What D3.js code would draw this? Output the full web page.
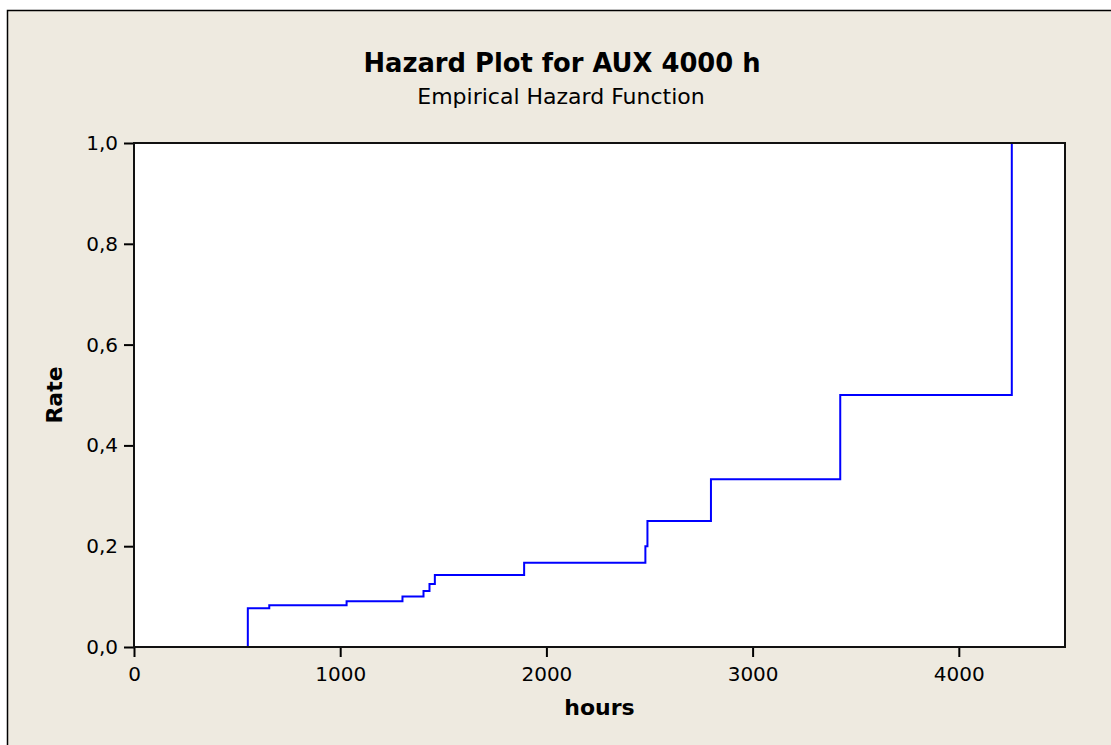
<!DOCTYPE html>
<html>
<head>
<meta charset="utf-8">
<script src="https://cdn.jsdelivr.net/npm/d3@7/dist/d3.min.js"></script>
<style>
  html, body { margin: 0; padding: 0; background: #ffffff; }
  svg { display: block; }
  text { font-family: "DejaVu Sans", sans-serif; fill: #000; }
</style>
</head>
<body>
<svg id="chart" width="1111" height="745"></svg>
<script>
// Failure times (hours) at which the empirical hazard steps up
const failureHours = [552, 656, 1031, 1302, 1404, 1433, 1459, 1892, 2480, 2490, 2798, 3425, 4257];
// Hazard rate reached at each failure time
const hazardRates = [0.077, 0.083, 0.091, 0.100, 0.111, 0.125, 0.143, 0.167, 0.200, 0.250, 0.333, 0.500, 1.000];
// Axis ticks
const xTicks = [0, 1000, 2000, 3000, 4000];
const yTicks = [0.0, 0.2, 0.4, 0.6, 0.8, 1.0];

const svg = d3.select("#chart");
const W = 1111, H = 745;
const plot = { left: 134, top: 143, right: 1065, bottom: 647 };

// Page background and outer frame
svg.append("rect").attr("x", 0).attr("y", 0).attr("width", W).attr("height", H).attr("fill", "#ffffff");
svg.append("rect")
  .attr("x", 7.5).attr("y", 10.5).attr("width", W + 10).attr("height", H + 10)
  .attr("fill", "#eeeae0").attr("stroke", "#000").attr("stroke-width", 1.5);

const x = d3.scaleLinear().domain([0, 4515]).range([plot.left, plot.right]);
const y = d3.scaleLinear().domain([0, 1]).range([plot.bottom, plot.top]);

// Plot area
svg.append("rect")
  .attr("x", plot.left).attr("y", plot.top)
  .attr("width", plot.right - plot.left).attr("height", plot.bottom - plot.top)
  .attr("fill", "#ffffff");

// Step function of the empirical hazard
const pts = [];
failureHours.forEach((t, i) => {
  pts.push([t, i === 0 ? 0 : hazardRates[i - 1]]);
  pts.push([t, hazardRates[i]]);
});
const line = d3.line().x(d => x(d[0])).y(d => y(d[1]));
svg.append("path")
  .datum(pts)
  .attr("d", line)
  .attr("fill", "none")
  .attr("stroke", "#0000ff")
  .attr("stroke-width", 2);

// Axes
const fmtY = d => d3.format(".1f")(d).replace(".", ",");
const xAxis = svg.append("g")
  .attr("transform", `translate(0,${plot.bottom})`)
  .call(d3.axisBottom(x).tickValues(xTicks).tickFormat(d3.format("d")).tickSize(10).tickPadding(10));
const yAxis = svg.append("g")
  .attr("transform", `translate(${plot.left},0)`)
  .call(d3.axisLeft(y).tickValues(yTicks).tickFormat(fmtY).tickSize(10).tickPadding(6));

[xAxis, yAxis].forEach(g => {
  g.select(".domain").remove();
  g.selectAll(".tick line").attr("stroke", "#000").attr("stroke-width", 2);
  g.selectAll(".tick text")
    .attr("font-family", "DejaVu Sans Condensed, DejaVu Sans, sans-serif")
    .attr("font-size", 20).attr("fill", "#000");
});

// Plot frame
svg.append("rect")
  .attr("x", plot.left).attr("y", plot.top)
  .attr("width", plot.right - plot.left).attr("height", plot.bottom - plot.top)
  .attr("fill", "none").attr("stroke", "#111").attr("stroke-width", 2);

// Titles
svg.append("text")
  .attr("x", 562).attr("y", 72)
  .attr("text-anchor", "middle")
  .attr("font-size", 25.8).attr("font-weight", "bold")
  .text("Hazard Plot for AUX 4000 h");
svg.append("text")
  .attr("x", 561).attr("y", 104)
  .attr("text-anchor", "middle")
  .attr("font-size", 22)
  .text("Empirical Hazard Function");

// Axis titles
svg.append("text")
  .attr("x", (plot.left + plot.right) / 2).attr("y", 715)
  .attr("text-anchor", "middle")
  .attr("font-size", 22).attr("font-weight", "bold")
  .text("hours");
svg.append("text")
  .attr("transform", `translate(62,${(plot.top + plot.bottom) / 2}) rotate(-90)`)
  .attr("text-anchor", "middle")
  .attr("font-size", 22).attr("font-weight", "bold")
  .text("Rate");
</script>
</body>
</html>
